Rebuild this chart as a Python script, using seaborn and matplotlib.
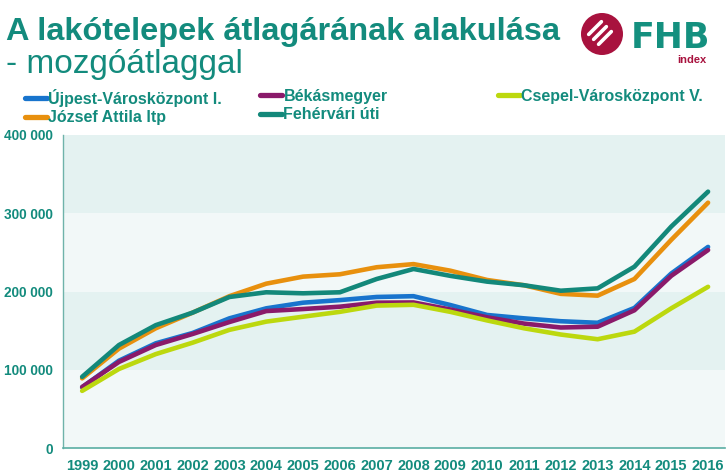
import numpy as np
import pandas as pd
import matplotlib
matplotlib.use("Agg")
import matplotlib.pyplot as plt
import seaborn as sns
from matplotlib.lines import Line2D
from matplotlib.patches import Circle

years = list(range(1999, 2017))
ujpest = [77600, 111600, 133800, 147000, 165700, 178500, 185700, 189000, 193000, 194000,
          182700, 170000, 165700, 162000, 160000, 179000, 223000, 257000]
bekas = [78000, 110000, 131600, 145700, 161000, 175000, 177600, 180600, 185700, 186000,
         177000, 167000, 159000, 154000, 155000, 176000, 220000, 253000]
csepel = [73000, 101000, 120000, 134600, 151000, 161500, 167800, 174000, 182000, 183000,
          174000, 163000, 153000, 145000, 139000, 148700, 178500, 206000]
jozsef = [89000, 127000, 153000, 173000, 194000, 210000, 219000, 222000, 231000, 235000,
          226600, 214700, 208000, 197000, 194700, 216000, 266000, 313500]
fehervari = [91000, 131600, 157000, 173000, 193000, 199000, 197700, 199000, 216000, 228800,
             220000, 212600, 208000, 201000, 204000, 231700, 283000, 327600]

names = ["Újpest-Városközpont I.", "Békásmegyer", "Csepel-Városközpont V.",
         "József Attila ltp", "Fehérvári úti"]
series = [ujpest, bekas, csepel, jozsef, fehervari]
colors = ["#1874cd", "#8a1a6a", "#bcd80e", "#e8900e", "#13887a"]
yticks = [0, 100000, 200000, 300000, 400000]
ytick_labels = ["0", "100 000", "200 000", "300 000", "400 000"]

teal = "#138b7d"

sns.set_theme(style="white")
plt.rcParams["font.family"] = ["Liberation Sans", "DejaVu Sans"]

df = pd.DataFrame({
    "year": years * len(names),
    "value": sum(series, []),
    "name": sum([[n] * len(years) for n in names], []),
})

W, H = 727, 475
fig = plt.figure(figsize=(W / 100, H / 100), dpi=100)
fig.patch.set_facecolor("white")
ax = fig.add_axes([63 / W, (H - 448) / H, (725 - 63) / W, (448 - 135) / H])

# bands
band_cols = ["#f2f8f8", "#e4f2f1", "#f2f8f8", "#e4f2f1"]
for i in range(4):
    ax.axhspan(yticks[i], yticks[i + 1], color=band_cols[i], lw=0, zorder=0)

sns.lineplot(data=df, x="year", y="value", hue="name", hue_order=names,
             palette=colors, linewidth=3.3, legend=False, ax=ax, zorder=3,
             solid_capstyle="round")

ax.set_xlim(1998.48, 2016.46)
ax.set_ylim(0, 400000)
ax.set_xticks(years)
ax.set_xticklabels([str(y) for y in years], fontsize=10.5, fontweight="bold", color=teal)
ax.set_yticks(yticks)
ax.set_yticklabels(ytick_labels, fontsize=9.8, fontweight="bold", color=teal)
ax.tick_params(axis="y", length=0, pad=7.5)
ax.tick_params(axis="x", length=0, pad=8)
ax.set_xlabel("")
ax.set_ylabel("")
for s in ["top", "right"]:
    ax.spines[s].set_visible(False)
ax.spines["left"].set_color("#6fb3aa")
ax.spines["bottom"].set_color("#5aaea3")
ax.spines["left"].set_linewidth(1)
ax.spines["bottom"].set_linewidth(1.2)
ax.grid(False)

# title
fig.text(6 / W, 1 - 40 / H, "A lakótelepek átlagárának alakulása", fontsize=23.4,
         fontweight="bold", color=teal, ha="left", va="baseline")
fig.text(6 / W, 1 - 73 / H, "- mozgóátlaggal", fontsize=24,
         color=teal, ha="left", va="baseline")

# legend: three columns
cols_idx = [[0, 3], [1, 4], [2]]
col_x = [25, 260, 498]
for ci, idxs in enumerate(cols_idx):
    handles = [Line2D([], [], color=colors[i], lw=3.8, solid_capstyle="round") for i in idxs]
    labels = [names[i] for i in idxs]
    leg = fig.legend(handles, labels, loc="upper left",
                     bbox_to_anchor=(col_x[ci] / W, 1 - 89 / H),
                     frameon=False, handlelength=1.35, handletextpad=0.12,
                     borderpad=0, borderaxespad=0, labelspacing=0.2,
                     prop={"weight": "bold", "size": 11.5})
    for t in leg.get_texts():
        t.set_color(teal)

# logo
lax = fig.add_axes([570 / W, 1 - 80 / H, (727 - 570) / W, 80 / H])
lax.set_xlim(570, 727)
lax.set_ylim(80, 0)
lax.axis("off")
lax.add_patch(Circle((602, 34), 21, color="#a8123e", lw=0))
for off in [-7, 0, 7]:
    cx, cy = 600 + off * 0.707, 33 + off * 0.707
    d = 9
    lax.plot([cx - d * 0.707, cx + d * 0.707], [cy + d * 0.707, cy - d * 0.707],
             color="white", lw=2.6, solid_capstyle="round")
lax.text(631, 48, "FHB", fontsize=25, fontweight="bold", color="#14907f",
         ha="left", va="baseline", family="DejaVu Sans")
lax.text(677, 63, "index", fontsize=8, fontweight="bold", color="#a8123e",
         ha="left", va="baseline")

fig.savefig("out.png", dpi=100, facecolor="white")
